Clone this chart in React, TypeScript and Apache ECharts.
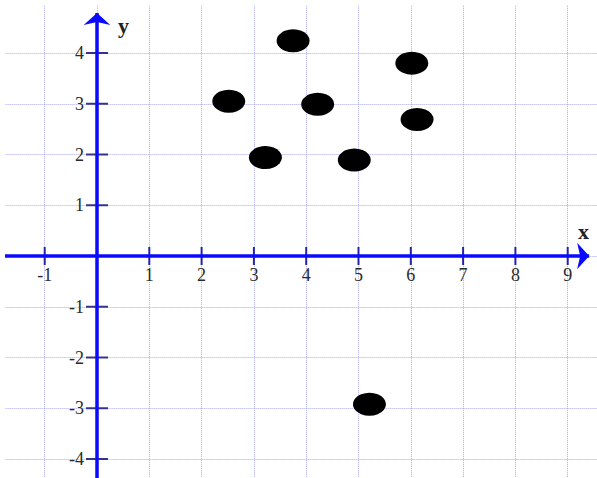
import React, { useEffect, useRef } from "react";
import * as echarts from "echarts";

const pointX = [3.75, 6.02, 2.52, 4.22, 6.12, 3.22, 4.92, 5.21];
const pointY = [4.24, 3.8, 3.05, 2.99, 2.69, 1.94, 1.89, -2.92];
const xTicks = [-1, 1, 2, 3, 4, 5, 6, 7, 8, 9];
const yTicks = [-4, -3, -2, -1, 1, 2, 3, 4];
const xRange = [-2, 10];
const yRange = [-5, 5];
const xArrowEnd = 9.41;
const yArrowEnd = 4.79;

const PAD = 50;

export default function App() {
  const ref = useRef<HTMLDivElement>(null);
  useEffect(() => {
    if (!ref.current) return;
    const chart = echarts.init(ref.current, null, { renderer: "svg" });
    const serif = "Liberation Serif";
    const gridLine = { show: true, lineStyle: { color: "#a9a9ee", type: "dotted" as const, width: 1 } };
    const tickLabel = { fontFamily: serif, fontSize: 18, color: "#2a2a2a" };
    chart.setOption({
      animation: false,
      backgroundColor: "#ffffff",
      grid: { left: PAD - 12.6, top: PAD - 2.75, width: 627.6, height: 507.5, containLabel: false },
      xAxis: {
        type: "value",
        min: xRange[0],
        max: xRange[1],
        interval: 1,
        axisLine: { show: false },
        axisTick: { show: false },
        splitLine: gridLine,
        axisLabel: { show: false },
      },
      yAxis: {
        type: "value",
        min: yRange[0],
        max: yRange[1],
        interval: 1,
        axisLine: { show: false },
        axisTick: { show: false },
        splitLine: gridLine,
        axisLabel: { show: false },
      },
      series: [
        {
          type: "scatter",
          symbol: "rect",
          symbolSize: [2, 18],
          itemStyle: { color: "#2424a8", opacity: 1 },
          data: xTicks.map((v) => [v, 0]),
          silent: true,
          z: 3,
          label: {
            show: true,
            position: "bottom",
            distance: 1,
            ...tickLabel,
            formatter: (p: any) => String(p.value[0]),
          },
          markLine: {
            silent: true,
            symbol: ["none", "arrow"],
            symbolSize: [20, 12],
            label: { show: false },
            lineStyle: { color: "#0a0aff", width: 3.5, type: "solid", opacity: 1 },
            data: [
              [{ coord: [xRange[0], 0] }, { coord: [xArrowEnd, 0] }],
              [{ coord: [0, yRange[0]] }, { coord: [0, yArrowEnd] }],
            ],
          },
        },
        {
          type: "scatter",
          symbol: "rect",
          symbolSize: [22, 2],
          itemStyle: { color: "#34348a", opacity: 1 },
          data: yTicks.map((v) => [0, v]),
          silent: true,
          z: 3,
          label: {
            show: true,
            position: "left",
            distance: 2,
            ...tickLabel,
            formatter: (p: any) => String(p.value[1]),
          },
        },
        {
          type: "scatter",
          symbol: "circle",
          symbolSize: [33, 23],
          itemStyle: { color: "#000000", opacity: 1 },
          data: pointX.map((x, i) => [x, pointY[i]]),
          z: 5,
        },
      ],
      graphic: [
        {
          type: "text",
          left: PAD + 113,
          top: PAD + 9,
          style: { text: "y", font: `bold 22px ${serif}`, fill: "#222" },
        },
        {
          type: "text",
          left: PAD + 573,
          top: PAD + 215,
          style: { text: "x", font: `bold 22px ${serif}`, fill: "#222" },
        },
      ],
    });
    return () => chart.dispose();
  }, []);
  return (
    <div style={{ position: "fixed", left: 5, top: 5, width: 592, height: 473, overflow: "hidden", background: "#fff" }}>
      <div ref={ref} style={{ position: "absolute", left: -PAD, top: -PAD, width: 592 + 2 * PAD, height: 473 + 2 * PAD }} />
    </div>
  );
}
